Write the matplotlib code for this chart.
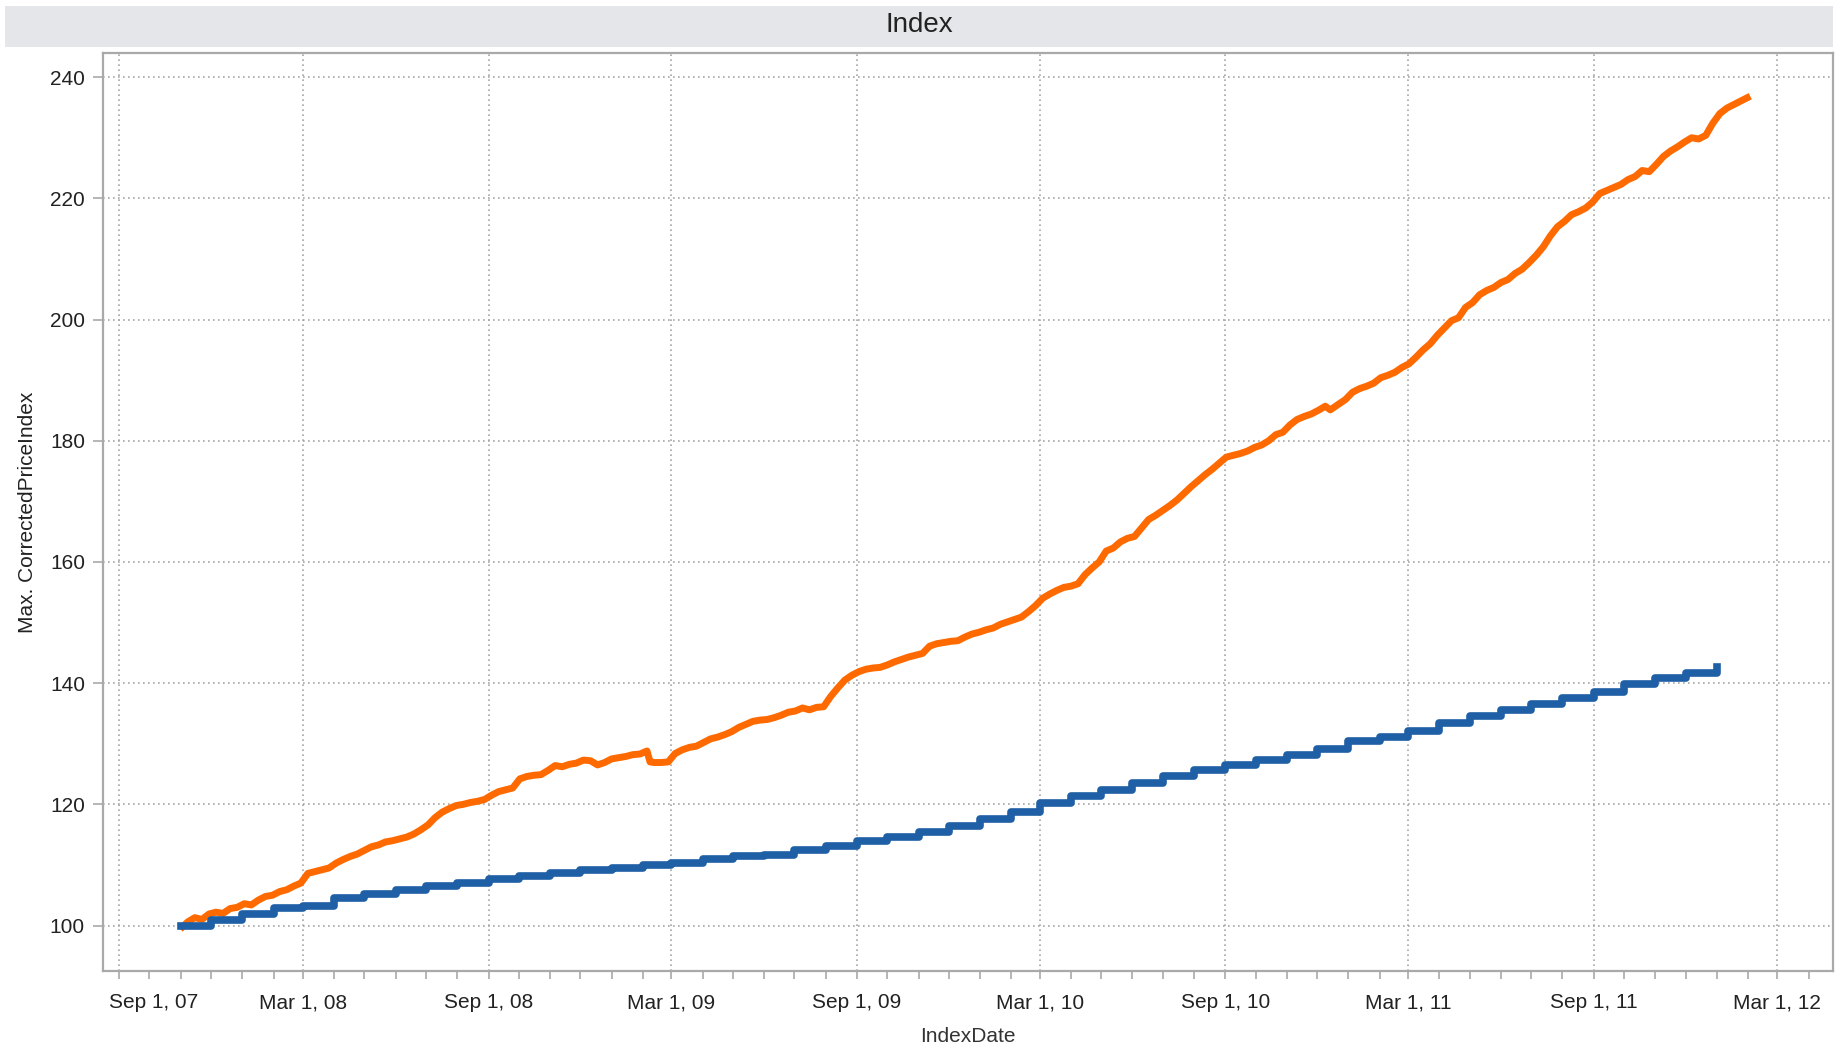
import numpy as np
import pandas as pd
import matplotlib
matplotlib.use("Agg")
import matplotlib.pyplot as plt
import matplotlib.dates as mdates
import matplotlib.transforms as mtransforms
from matplotlib.patches import Rectangle
from matplotlib.ticker import FuncFormatter

plt.rcParams['font.family'] = ['Liberation Sans', 'DejaVu Sans']

# blue series: monthly steps
blue_months = pd.date_range("2007-11-01", "2012-01-01", freq="MS")
blue_values = [100.0, 100.9, 101.9, 102.9, 103.2, 104.6, 105.2, 105.9, 106.6, 107.0,
               107.6, 108.1, 108.7, 109.1, 109.5, 110.0, 110.4, 111.0, 111.4, 111.7,
               112.4, 113.1, 114.0, 114.6, 115.5, 116.5, 117.5, 118.8, 120.2, 121.4,
               122.3, 123.6, 124.6, 125.7, 126.5, 127.3, 128.2, 129.2, 130.4, 131.1,
               132.1, 133.4, 134.5, 135.5, 136.5, 137.5, 138.6, 139.9, 140.9, 141.6,
               142.6]

# orange series: roughly weekly readings
orange_dates = [
    "2007-11-03", "2007-11-08", "2007-11-15", "2007-11-22", "2007-11-29",
    "2007-12-06", "2007-12-13", "2007-12-20", "2007-12-27",
    "2008-01-03", "2008-01-10", "2008-01-17", "2008-01-24", "2008-01-31",
    "2008-02-07", "2008-02-14", "2008-02-21", "2008-02-28",
    "2008-03-06", "2008-03-13", "2008-03-20", "2008-03-27",
    "2008-04-03", "2008-04-10", "2008-04-17", "2008-04-24",
    "2008-05-01", "2008-05-08", "2008-05-15", "2008-05-22", "2008-05-29",
    "2008-06-05", "2008-06-12", "2008-06-19", "2008-06-26",
    "2008-07-03", "2008-07-10", "2008-07-17", "2008-07-24", "2008-07-31",
    "2008-08-07", "2008-08-14", "2008-08-21", "2008-08-28",
    "2008-09-04", "2008-09-11", "2008-09-18", "2008-09-25",
    "2008-10-02", "2008-10-09", "2008-10-16", "2008-10-23", "2008-10-30",
    "2008-11-06", "2008-11-13", "2008-11-20", "2008-11-27",
    "2008-12-04", "2008-12-11", "2008-12-18", "2008-12-25",
    "2009-01-01", "2009-01-08", "2009-01-15", "2009-01-22", "2009-01-29",
    "2009-02-05", "2009-02-08", "2009-02-12", "2009-02-19", "2009-02-26",
    "2009-03-05", "2009-03-12", "2009-03-19", "2009-03-26",
    "2009-04-02", "2009-04-09", "2009-04-16", "2009-04-23", "2009-04-30",
    "2009-05-07", "2009-05-14", "2009-05-21", "2009-05-28",
    "2009-06-04", "2009-06-11", "2009-06-18", "2009-06-25",
    "2009-07-02", "2009-07-09", "2009-07-16", "2009-07-23", "2009-07-30",
    "2009-08-06", "2009-08-13", "2009-08-20", "2009-08-27",
    "2009-09-03", "2009-09-10", "2009-09-17", "2009-09-24",
    "2009-10-01", "2009-10-08", "2009-10-15", "2009-10-22", "2009-10-29",
    "2009-11-05", "2009-11-12", "2009-11-19", "2009-11-26",
    "2009-12-03", "2009-12-10", "2009-12-17", "2009-12-24", "2009-12-31",
    "2010-01-07", "2010-01-14", "2010-01-21", "2010-01-28",
    "2010-02-04", "2010-02-11", "2010-02-18", "2010-02-25",
    "2010-03-04", "2010-03-11", "2010-03-18", "2010-03-25",
    "2010-04-01", "2010-04-08", "2010-04-15", "2010-04-22", "2010-04-29",
    "2010-05-06", "2010-05-13", "2010-05-20", "2010-05-27",
    "2010-06-03", "2010-06-10", "2010-06-17", "2010-06-24",
    "2010-07-01", "2010-07-08", "2010-07-15", "2010-07-22", "2010-07-29",
    "2010-08-05", "2010-08-12", "2010-08-19", "2010-08-26",
    "2010-09-02", "2010-09-09", "2010-09-16", "2010-09-23", "2010-09-30",
    "2010-10-07", "2010-10-14", "2010-10-21", "2010-10-28",
    "2010-11-04", "2010-11-11", "2010-11-18", "2010-11-25",
    "2010-12-02", "2010-12-09", "2010-12-14", "2010-12-22", "2010-12-29",
    "2011-01-05", "2011-01-12", "2011-01-19", "2011-01-26",
    "2011-02-02", "2011-02-09", "2011-02-16", "2011-02-23",
    "2011-03-02", "2011-03-09", "2011-03-16", "2011-03-23", "2011-03-30",
    "2011-04-06", "2011-04-13", "2011-04-20", "2011-04-27",
    "2011-05-04", "2011-05-11", "2011-05-18", "2011-05-25",
    "2011-06-01", "2011-06-08", "2011-06-15", "2011-06-22", "2011-06-29",
    "2011-07-06", "2011-07-13", "2011-07-20", "2011-07-27",
    "2011-08-03", "2011-08-10", "2011-08-17", "2011-08-24", "2011-08-31",
    "2011-09-07", "2011-09-14", "2011-09-21", "2011-09-28",
    "2011-10-05", "2011-10-12", "2011-10-19", "2011-10-26",
    "2011-11-02", "2011-11-09", "2011-11-16", "2011-11-23", "2011-11-30",
    "2011-12-07", "2011-12-14", "2011-12-21", "2011-12-28",
    "2012-01-04", "2012-01-11", "2012-01-18", "2012-01-25", "2012-01-31",
]
orange_values = [
    99.8, 100.6, 101.3, 101.0, 101.9,
    102.2, 102.0, 102.8, 103.0,
    103.6, 103.4, 104.2, 104.8, 105.0,
    105.6, 105.9, 106.5, 107.0,
    108.6, 108.9, 109.2, 109.5,
    110.3, 110.9, 111.4, 111.8,
    112.4, 113.0, 113.3, 113.8, 114.0,
    114.3, 114.6, 115.1, 115.8,
    116.6, 117.8, 118.7, 119.3, 119.8,
    120.0, 120.3, 120.5, 120.8,
    121.5, 122.1, 122.4, 122.7,
    124.2, 124.6, 124.8, 124.9, 125.6,
    126.4, 126.2, 126.6, 126.8,
    127.3, 127.2, 126.5, 126.9,
    127.5, 127.7, 127.9, 128.2, 128.3,
    128.8, 127.0, 126.9, 126.9, 127.0,
    128.4, 129.0, 129.4, 129.6,
    130.2, 130.8, 131.1, 131.5, 132.0,
    132.7, 133.2, 133.7, 133.9,
    134.0, 134.3, 134.7, 135.2,
    135.4, 135.9, 135.6, 136.0, 136.1,
    137.8, 139.2, 140.5, 141.3,
    141.9, 142.3, 142.5, 142.6,
    143.0, 143.5, 143.9, 144.3, 144.6,
    144.9, 146.1, 146.5, 146.7,
    146.9, 147.0, 147.6, 148.1, 148.4,
    148.8, 149.1, 149.7, 150.1,
    150.5, 150.9, 151.8, 152.8,
    154.0, 154.7, 155.3, 155.8,
    156.0, 156.4, 157.9, 159.0, 160.0,
    161.8, 162.3, 163.3, 163.9,
    164.2, 165.6, 167.0, 167.7,
    168.5, 169.3, 170.2, 171.3, 172.4,
    173.4, 174.4, 175.3, 176.3,
    177.3, 177.6, 177.9, 178.3, 178.9,
    179.3, 180.0, 181.0, 181.4,
    182.6, 183.5, 184.0, 184.4,
    185.0, 185.7, 185.1, 186.0, 186.8,
    188.0, 188.6, 189.0, 189.5,
    190.4, 190.8, 191.3, 192.1,
    192.7, 193.8, 195.0, 196.0, 197.4,
    198.6, 199.8, 200.3, 202.0,
    202.8, 204.1, 204.8, 205.3,
    206.1, 206.6, 207.6, 208.3, 209.4,
    210.6, 212.0, 213.8, 215.3,
    216.2, 217.3, 217.8, 218.4, 219.4,
    220.8, 221.3, 221.8, 222.3,
    223.1, 223.6, 224.6, 224.4,
    225.6, 226.9, 227.8, 228.5, 229.3,
    230.0, 229.8, 230.4, 232.4,
    234.0, 234.9, 235.5, 236.1, 236.6,
]

orange_dates = pd.to_datetime(orange_dates)

fig = plt.figure(figsize=(18.39, 10.48), dpi=100)
ax = fig.add_axes([0.056, 0.0735, 0.9407, 0.876])

# title bar
fig.patches.append(Rectangle((5 / 1839, 1 - 47 / 1048), 1828 / 1839, 41 / 1048,
                             transform=fig.transFigure, facecolor="#e5e6ea",
                             edgecolor="none", zorder=0))
fig.text(0.5, 1 - 25 / 1048, "Index", ha="center", va="center",
         fontsize=20, color="#222222")

ax.plot(orange_dates, orange_values, color="#ff6a00", linewidth=5.0,
        solid_joinstyle="round", zorder=3)
ax.plot(blue_months, blue_values, color="#1f5fa6", linewidth=5.5,
        drawstyle="steps-post", zorder=4)

ax.set_xlim(pd.Timestamp("2007-08-16"), pd.Timestamp("2012-04-25"))
ax.set_ylim(92.5, 244)

ax.xaxis.set_major_locator(mdates.MonthLocator(bymonth=[3, 9]))
ax.xaxis.set_minor_locator(mdates.MonthLocator())
ax.xaxis.set_major_formatter(FuncFormatter(
    lambda v, p: "{} {}, {}".format(mdates.num2date(v).strftime("%b"),
                                    mdates.num2date(v).day,
                                    mdates.num2date(v).strftime("%y"))))
ax.set_yticks([100, 120, 140, 160, 180, 200, 220, 240])

ax.grid(True, which="major", color="#a6a6a6", linestyle=(0, (1, 2)), linewidth=1.2)
ax.set_axisbelow(True)

for s in ax.spines.values():
    s.set_color("#a9a9a9")
    s.set_linewidth(1.6)

ax.tick_params(axis="both", which="both", colors="#a9a9a9", labelcolor="#222222",
               labelsize=15, width=1.2)
ax.tick_params(axis="x", which="both", length=6, pad=10)
ax.tick_params(axis="y", length=7, pad=6)

ax.set_xlabel("IndexDate", fontsize=15, color="#333333", labelpad=11)
ax.set_ylabel("Max. CorrectedPriceIndex", fontsize=15, color="#222222", labelpad=9)

# first date label sits to the right of its tick, as in the original
fig.canvas.draw()
first = ax.get_xticklabels()[0]
first.set_horizontalalignment("left")
first.set_transform(first.get_transform() +
                    mtransforms.ScaledTranslation(-10 / 100, 0, fig.dpi_scale_trans))

fig.savefig("out.png", dpi=100)
